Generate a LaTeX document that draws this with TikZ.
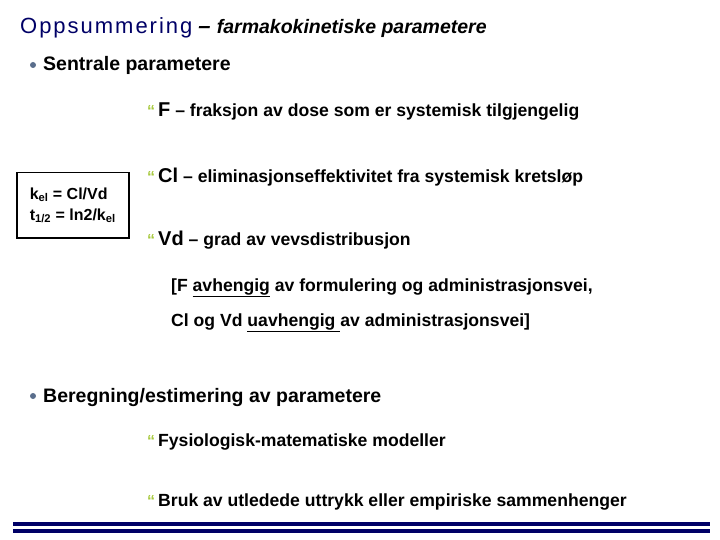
\documentclass[tikz,border=0pt]{standalone}
\usepackage{fontspec}
\setmainfont{Liberation Sans}
\definecolor{navy}{HTML}{000066}
\definecolor{bul}{HTML}{A6C83C}
\definecolor{dot}{HTML}{5A6E8C}
\newcommand{\bmark}{\textcolor{bul}{\fontsize{16}{16}\selectfont\bfseries“}\hspace{3pt}}
\begin{document}
\begin{tikzpicture}[x=1pt,y=-1pt,
  txt/.style={anchor=west,inner sep=0pt,font=\bfseries\fontsize{17.6}{19}\selectfont},
  dotb/.style={circle,fill=dot,inner sep=0pt,minimum size=6pt}]
\useasboundingbox (0,0) rectangle (720,540);
\node[txt,font=\fontsize{22}{24}\selectfont] (title) at (20,28) {\textcolor{navy}{\addfontfeature{LetterSpace=9}Oppsummering} \bfseries\textit{– \fontsize{19.5}{20}\selectfont farmakokinetiske parametere}};
\node[dotb] (d1) at (33,65) {};
\node[txt,font=\bfseries\fontsize{19.5}{20}\selectfont] (s1) at (43,65) {Sentrale parametere};
\node[txt] (b1) at (147,111) {\bmark{\fontsize{20}{20}\selectfont F} – fraksjon av dose som er systemisk tilgjengelig};
\node[txt] (b2) at (147,177) {\bmark{\fontsize{20}{20}\selectfont Cl} – eliminasjonseffektivitet fra systemisk kretsløp};
\node[txt] (b3) at (147,240) {\bmark{\fontsize{20}{20}\selectfont Vd} – grad av vevsdistribusjon};
\node[draw,line width=1.5pt,anchor=north west,align=left,inner sep=5pt,minimum width=112pt,minimum height=65pt,font=\bfseries\fontsize{16}{21}\selectfont] (box) at (16,172) {k\textsubscript{el} = Cl/Vd\\t\textsubscript{1/2} = ln2/k\textsubscript{el}};
\node[txt] (n1) at (171,288) {[F \underline{avhengig} av formulering og administrasjonsvei,};
\node[txt] (n2) at (171,323) {Cl og Vd \underline{uavhengig }av administrasjonsvei]};
\node[dotb] (d2) at (33,396) {};
\node[txt,font=\bfseries\fontsize{19.5}{20}\selectfont] (s2) at (43,397) {Beregning/estimering av parametere};
\node[txt] (b4) at (147,442) {\bmark Fysiologisk-matematiske modeller};
\node[txt] (b5) at (147,502) {\bmark Bruk av utledede uttrykk eller empiriske sammenhenger};
\coordinate (l1a) at (13,524); \coordinate (l1b) at (710,524);
\coordinate (l2a) at (13,531); \coordinate (l2b) at (710,531);
\draw[navy,line width=3.2pt] (l1a) -- (l1b);
\draw[navy,line width=3.2pt] (l2a) -- (l2b);
\end{tikzpicture}
\end{document}
